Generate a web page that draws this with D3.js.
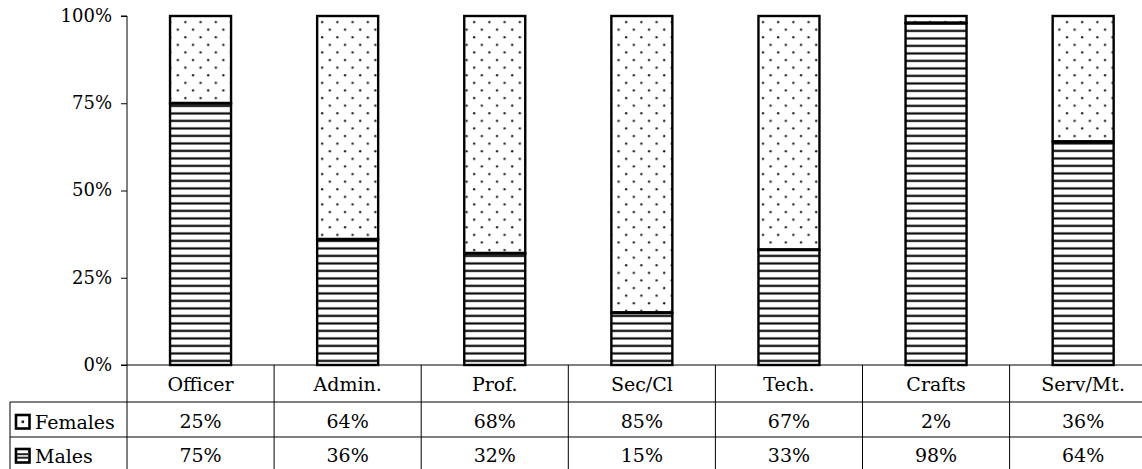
<!DOCTYPE html>
<html><head><meta charset="utf-8">
<script src="https://cdn.jsdelivr.net/npm/d3@7/dist/d3.min.js"></script>
<style>
body{margin:0;background:#fff;}
svg{display:block;}
svg text{font-family:"DejaVu Serif",serif;}
</style></head>
<body><svg id="c" width="1142" height="469"></svg>
<script>
const categories = ["Officer","Admin.","Prof.","Sec/Cl","Tech.","Crafts","Serv/Mt."];
const females = [25,64,68,85,67,2,36];
const males = [75,36,32,15,33,98,64];
const seriesNames = ["Females","Males"];
const yTicks = [0,25,50,75,100];

(function(){
const svg = d3.select("#c");
const W = 1142, H = 469;
const plotLeft = 127, colW = 147.1;
const plotTop = 16, plotBottom = 365;
const row1 = 402, row2 = 437;
const barW = 61;
const fs = 18, fsT = 19;
const FF = "DejaVu Serif";

const x = d3.scaleBand().domain(categories).range([plotLeft, plotLeft + colW*categories.length]).padding(0);
const y = d3.scaleLinear().domain([0,100]).range([plotBottom, plotTop]);

const defs = svg.append("defs");
const pd = defs.append("pattern").attr("id","dots").attr("patternUnits","userSpaceOnUse")
  .attr("width",15.2).attr("height",15.2).attr("x",0).attr("y",plotTop+2);
pd.append("rect").attr("width",15.2).attr("height",15.2).attr("fill","#fff");
pd.append("circle").attr("cx",3).attr("cy",4).attr("r",1.15).attr("fill","#222");
pd.append("circle").attr("cx",10.6).attr("cy",11.6).attr("r",1.15).attr("fill","#222");

const ph = defs.append("pattern").attr("id","hlines").attr("patternUnits","userSpaceOnUse")
  .attr("width",10).attr("height",7.5).attr("x",0).attr("y",plotBottom);
ph.append("rect").attr("width",10).attr("height",7.5).attr("fill","#fff");
ph.append("rect").attr("y",2.2).attr("width",10).attr("height",2.4).attr("fill","#444");
ph.append("rect").attr("y",2.8).attr("width",10).attr("height",1.2).attr("fill","#000");

// y axis
const yAxis = d3.axisLeft(y).tickValues(yTicks).tickFormat(d => d + "%").tickSize(6).tickPadding(9);
const ga = svg.append("g").attr("transform",`translate(${plotLeft},0)`).call(yAxis)
  .attr("font-family",FF).attr("font-size",fs);
ga.select(".domain").attr("d",`M-6,${plotTop}H0V${plotBottom}`).attr("stroke","#000");
ga.selectAll(".tick line").attr("stroke","#000");
ga.selectAll(".tick text").attr("font-family",FF).attr("font-size",fs).attr("fill","#000").attr("dy","0.3em");

// bars
const data = categories.map((c,i)=>({c, m: males[i], f: females[i]}));
const g = svg.append("g");
g.selectAll("rect.f").data(data).join("rect").attr("class","f")
  .attr("x", d => x(d.c) + x.bandwidth()/2 - barW/2)
  .attr("width", barW)
  .attr("y", d => y(d.m + d.f))
  .attr("height", d => y(d.m) - y(d.m + d.f))
  .attr("fill","url(#dots)").attr("stroke","#000").attr("stroke-width",2.4);
g.selectAll("rect.m").data(data).join("rect").attr("class","m")
  .attr("x", d => x(d.c) + x.bandwidth()/2 - barW/2)
  .attr("width", barW)
  .attr("y", d => y(d.m))
  .attr("height", d => y(0) - y(d.m))
  .attr("fill","url(#hlines)").attr("stroke","#000").attr("stroke-width",2.4);
g.selectAll("line.sep").data(data).join("line").attr("class","sep")
  .attr("x1", d => x(d.c) + x.bandwidth()/2 - barW/2)
  .attr("x2", d => x(d.c) + x.bandwidth()/2 + barW/2)
  .attr("y1", d => y(d.m)).attr("y2", d => y(d.m))
  .attr("stroke","#000").attr("stroke-width",3);

// data table
const t = svg.append("g").attr("stroke","#000").attr("stroke-width",1);
t.append("line").attr("x1",plotLeft-6).attr("x2",W).attr("y1",plotBottom).attr("y2",plotBottom);
t.append("line").attr("x1",10).attr("x2",W).attr("y1",row1).attr("y2",row1);
t.append("line").attr("x1",10).attr("x2",W).attr("y1",row2).attr("y2",row2);
t.append("line").attr("x1",10).attr("x2",10).attr("y1",row1).attr("y2",H);
t.selectAll("line.v").data(d3.range(categories.length+1)).join("line").attr("class","v")
  .attr("x1", i => plotLeft + i*colW).attr("x2", i => plotLeft + i*colW)
  .attr("y1", plotBottom).attr("y2", H);

const txt = svg.append("g").attr("font-family",FF).attr("font-size",fsT).attr("fill","#000").attr("text-anchor","middle");
txt.selectAll("text.cat").data(categories).join("text").attr("class","cat")
  .attr("x", d => x(d) + x.bandwidth()/2).attr("y", 391).text(d => d);
txt.selectAll("text.fv").data(data).join("text").attr("class","fv")
  .attr("x", d => x(d.c) + x.bandwidth()/2).attr("y", 428).text(d => d.f + "%");
txt.selectAll("text.mv").data(data).join("text").attr("class","mv")
  .attr("x", d => x(d.c) + x.bandwidth()/2).attr("y", 462).text(d => d.m + "%");

// row labels with legend keys
const rows = [{name: seriesNames[0], base: 429, key:"f"}, {name: seriesNames[1], base: 463, key:"m"}];
const rl = svg.append("g");
rows.forEach(r => {
  const k = rl.append("g").attr("transform",`translate(16,${r.base-14})`);
  k.append("rect").attr("x",0).attr("y",0).attr("width",13.5).attr("height",13.5)
    .attr("fill","#fff").attr("stroke","#000").attr("stroke-width",2.6);
  if (r.key === "f") {
    k.append("rect").attr("x",5.5).attr("y",5.5).attr("width",2.6).attr("height",2.6).attr("fill","#222");
  } else {
    k.append("rect").attr("x",1).attr("y",4.2).attr("width",11.5).attr("height",2).attr("fill","#222");
    k.append("rect").attr("x",1).attr("y",7.7).attr("width",11.5).attr("height",2).attr("fill","#222");
  }
  rl.append("text").attr("x",35).attr("y",r.base).attr("font-family",FF).attr("font-size",fsT).attr("fill","#000").text(r.name);
});
})();
</script></body></html>
